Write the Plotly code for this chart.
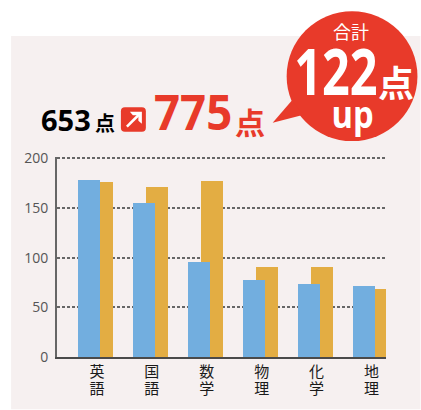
import plotly.graph_objects as go

W, H = 421, 410
L, R, T, B = 57, 386.5, 156.5, 357.5

subjects = ["英<br>語", "国<br>語", "数<br>学", "物<br>理", "化<br>学", "地<br>理"]
before = [178, 155, 96, 78, 74, 72]
after = [176, 171, 177, 91, 91, 69]
y_ticks = [0, 50, 100, 150, 200]
before_total = "653"
after_total = "775"
gain = "122"

RED = "#e83a2a"
PANEL = "#f6f0f0"
BLUE = "#72aedf"
GOLD = "#e3ad43"
LATIN = "Open Sans"
CJK = "Noto Sans CJK JP"


def px(x):
    return (x - L) / (R - L)


def py(y):
    return (B - y) / (B - T)


def path(points, close=True):
    d = "M" + " L".join(f"{px(x):.5f},{py(y):.5f}" for x, y in points)
    return d + (" Z" if close else "")


def rounded(x0, y0, x1, y1, r):
    def p(x, y):
        return f"{px(x):.5f},{py(y):.5f}"
    return (f"M{p(x0 + r, y0)} L{p(x1 - r, y0)} Q{p(x1, y0)} {p(x1, y0 + r)} "
            f"L{p(x1, y1 - r)} Q{p(x1, y1)} {p(x1 - r, y1)} "
            f"L{p(x0 + r, y1)} Q{p(x0, y1)} {p(x0, y1 - r)} "
            f"L{p(x0, y0 + r)} Q{p(x0, y0)} {p(x0 + r, y0)} Z")


STEP = 55
fig = go.Figure()
fig.add_bar(name="前", x=subjects, y=after, marker_color=GOLD, marker_line_width=0,
            width=22 / STEP, offset=-6 / STEP, showlegend=False)
fig.add_bar(name="後", x=subjects, y=before, marker_color=BLUE, marker_line_width=0,
            width=22 / STEP, offset=-19 / STEP, showlegend=False)

shapes = [
    dict(type="rect", xref="paper", yref="paper", layer="below",
         x0=px(11), x1=px(421), y0=py(410), y1=py(35), fillcolor=PANEL, line_width=0),
    dict(type="circle", xref="paper", yref="paper", x0=px(287), x1=px(418), y0=py(140.5), y1=py(10),
         fillcolor=RED, line_width=0),
    dict(type="path", xref="paper", yref="paper", fillcolor=RED, line_width=0,
         path=path([(273, 122), (292, 100), (304, 114)])),
    dict(type="path", xref="paper", yref="paper", fillcolor=RED, line_width=0,
         path=rounded(121, 106.5, 146, 131, 4)),
    dict(type="path", xref="paper", yref="paper", line=dict(color="white", width=2.6),
         path=path([(127, 126), (140, 113)], close=False)),
    dict(type="path", xref="paper", yref="paper", fillcolor="white", line_width=0,
         path=path([(130, 111), (142, 111), (142, 123), (138.5, 120), (138.5, 114.5), (133, 114.5)])),
]


def label(text, x, y, size, color, family, bold=True):
    return dict(text=f"<b>{text}</b>" if bold else text, x=px(x), y=py(y), xref="paper", yref="paper",
                showarrow=False, xanchor="center", yanchor="middle",
                font=dict(size=size, color=color, family=family))


annotations = [
    label(before_total, 66, 119, 29, "#000000", LATIN),
    label("点", 105, 122, 20, "#000000", CJK),
    label(after_total, 193, 111, 48, RED, LATIN),
    label("点", 250, 120, 30, RED, CJK),
    label("合計", 351, 30, 18, "white", CJK, bold=False),
    label(gain, 336, 70, 64, "white", LATIN),
    label("点", 397, 80, 36, "white", CJK),
    label("up", 353, 112, 38, "white", LATIN),
]

fig.update_layout(
    width=W, height=H, autosize=False,
    margin=dict(l=L, r=W - R, t=T, b=H - B, pad=0, autoexpand=False),
    paper_bgcolor="white", plot_bgcolor="rgba(0,0,0,0)",
    barmode="overlay", bargap=0,
    shapes=shapes, annotations=annotations,
    xaxis=dict(type="category", categoryorder="array", categoryarray=subjects, automargin=False,
               range=[(L - 97) / STEP, (R - 97) / STEP], showgrid=False, ticks="",
               showline=True, linecolor="#4a4a4a", linewidth=1.5, ticklabelstandoff=0,
               tickfont=dict(size=15, color="#1a1a1a", family=CJK)),
    yaxis=dict(range=[0, 201.5], tickvals=y_ticks, showgrid=True, griddash="2.5px,2.5px", automargin=False,
               gridcolor="#666666", gridwidth=1.5, zeroline=False, ticks="",
               showline=True, linecolor="#666666", linewidth=1.7, ticklabelstandoff=4,
               tickfont=dict(size=14, color="#555555", family=LATIN)),
)

POST = """
document.body.style.margin = '0';
var narrow = {'122': 0.76, 'up': 0.86, '775': 0.95};
document.querySelectorAll('.annotation-text').forEach(function (t) {
  var k = narrow[t.textContent];
  if (k) {
    t.style.transformBox = 'fill-box';
    t.style.transformOrigin = 'center';
    t.style.transform = 'scaleX(' + k + ')';
  }
});
document.querySelectorAll('.xtick tspan.line').forEach(function (s) {
  var d = parseFloat(s.getAttribute('dy') || '0');
  if (d > 0) { s.setAttribute('dy', (d * 0.88) + 'em'); }
});
"""
fig.write_html("out.html", post_script=POST, config={"displayModeBar": False})
